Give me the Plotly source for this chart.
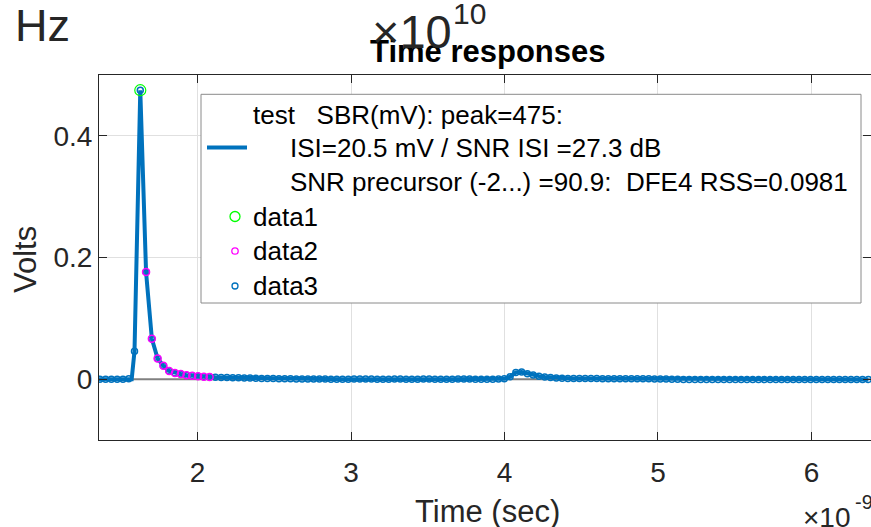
import numpy as np
import plotly.graph_objects as go

# ---------------- data ----------------
ui = 0.037647          # sample period (ns)
t_first = 1.3258       # time of first sample (ns)

# sampled pulse response (Volts), one value per UI
samples = [
    0.0, 0.0, 0.0, 0.0, 0.0, 0.0, 0.0005,            # pre-cursor region
    0.046, 0.475,                                    # rise, main cursor
    0.176, 0.0665, 0.034, 0.022, 0.0135, 0.0102,      # post-cursors 1..6
    0.0085, 0.0065, 0.0055, 0.0047, 0.004, 0.0036,    # post-cursors 7..12
    0.0031, 0.0028, 0.0026, 0.0024, 0.0022, 0.002, 0.0018, 0.0016, 0.0013,
    0.0011, 0.0009, 0.0008, 0.0006, 0.0005, 0.0004, 0.0003, 0.0003, 0.0002,
    0.0002, 0.0001, 0.0, 0.0, -0.0001, 0.0, 0.0001, 0.0002, 0.0002, 0.0001,
    0.0, 0.0, 0.0, 0.0001, 0.0001, 0.0, 0.0, 0.0, 0.0001, 0.0001,
    0.0, 0.0, 0.0, 0.0, 0.0001, 0.0001, 0.0001, 0.0, 0.0, 0.0,
    0.0, 0.0002,
    0.0005, 0.004, 0.011, 0.0118, 0.009, 0.0068, 0.005, 0.0035, 0.0027,
    0.002, 0.0016, 0.0013, 0.0011, 0.001, 0.001, 0.0009, 0.0009, 0.0008,
    0.0008, 0.0008, 0.0007, 0.0007, 0.0007, 0.0006, 0.0006, 0.0005, 0.0004,
    0.0003, 0.0002, 0.0,
    -0.0003, -0.0004, -0.0005, -0.0005, -0.0006, -0.0006, -0.0005, -0.0005,
    -0.0006, -0.0006, -0.0005, -0.0005, -0.0005, -0.0006, -0.0006, -0.0005,
    -0.0005, -0.0004, -0.0005, -0.0005, -0.0006, -0.0006, -0.0005, -0.0005,
    -0.0004, -0.0004, -0.0005, -0.0005, -0.0005, -0.0004, -0.0004, -0.0004,
    -0.0004, -0.0004,
]
sample_t = [t_first + i * ui for i in range(len(samples))]

peak_index = 8                 # main cursor (data1)
post_first, post_last = 9, 20  # post-cursors (data2)

# extra knot on the continuous waveform (start of the rising edge)
edge_t = [1.571]
edge_v = [0.0]

# baseline drawn under the waveform
base_t = [1.571, 6.45]
base_v = [0.0, 0.0]

x_ticks = [2, 3, 4, 5, 6]
y_ticks = [0, 0.2, 0.4]
y_tick_text = ["0", "0.2", "0.4"]
x_range = [1.358, 6.388]
y_range = [-0.1, 0.5]

legend_lines = [
    "test&nbsp;&nbsp;&nbsp;SBR(mV): peak=475:",
    "ISI=20.5 mV / SNR ISI =27.3 dB",
    "SNR precursor (-2...) =90.9:&nbsp;&nbsp;DFE4 RSS=0.0981",
]
legend_data = ["data1", "data2", "data3"]

# ---------------- figure ----------------
W, H = 871, 527
L, R, T, B = 99, 0, 75, 87
PW, PH = W - L - R, H - T - B


def px(x):
    return (x - L) / PW


def py(y):
    return (H - B - y) / PH


BLUE = "#0072BD"
TXT = "#262626"
FONT = "Liberation Sans, Arial, sans-serif"

# continuous waveform = samples plus edge knot, sorted by time
line_pts = sorted(list(zip(sample_t, samples)) + list(zip(edge_t, edge_v)))
line_t = [p[0] for p in line_pts]
line_v = [p[1] for p in line_pts]

fig = go.Figure()
fig.add_trace(go.Scatter(x=base_t, y=base_v, mode="lines",
                         line=dict(color="#808080", width=2), showlegend=False,
                         hoverinfo="skip"))
fig.add_trace(go.Scatter(x=line_t, y=line_v, mode="lines", name="test",
                         line=dict(color=BLUE, width=4)))
fig.add_trace(go.Scatter(x=sample_t, y=samples, mode="markers", name="data3",
                         marker=dict(symbol="circle-open", size=6, color=BLUE,
                                     line=dict(width=1.5, color=BLUE))))
fig.add_trace(go.Scatter(x=sample_t[post_first:post_last + 1],
                         y=samples[post_first:post_last + 1], mode="markers",
                         name="data2",
                         marker=dict(symbol="circle-open", size=7, color="#FF00FF",
                                     line=dict(width=1.5, color="#FF00FF"))))
fig.add_trace(go.Scatter(x=[sample_t[peak_index]], y=[samples[peak_index]],
                         mode="markers", name="data1",
                         marker=dict(symbol="circle-open", size=11, color="#00FF00",
                                     line=dict(width=1.2, color="#00FF00"))))

axis_common = dict(
    showline=True, linecolor=TXT, linewidth=1, mirror="ticks",
    ticks="inside", ticklen=8, tickwidth=1, tickcolor=TXT,
    showgrid=True, gridcolor="#e0e0e0", gridwidth=1, zeroline=False,
    tickfont=dict(family=FONT, size=28, color=TXT),
)
fig.update_xaxes(range=x_range, tickvals=x_ticks, ticktext=[str(v) for v in x_ticks],
                 ticklabelstandoff=7, **axis_common)
fig.update_yaxes(range=y_range, tickvals=y_ticks, ticktext=y_tick_text,
                 **axis_common)

shapes = []
# legend box
shapes.append(dict(type="rect", xref="paper", yref="paper",
                   x0=px(201), x1=px(861), y0=py(303), y1=py(94.3),
                   line=dict(color="#8a8a8a", width=1), fillcolor="white",
                   layer="above"))
# legend line sample
shapes.append(dict(type="line", xref="paper", yref="paper",
                   x0=px(207), x1=px(247), y0=py(147.5), y1=py(147.5),
                   line=dict(color=BLUE, width=4), layer="above"))
# legend marker samples
for cx, cy, r, col in [(235, 216.5, 5, "#00FF00"), (235, 251, 3.2, "#FF00FF"),
                       (235, 286, 3, BLUE)]:
    shapes.append(dict(type="circle", xref="paper", yref="paper",
                       x0=px(cx - r), x1=px(cx + r), y0=py(cy + r), y1=py(cy - r),
                       line=dict(color=col, width=1.3), layer="above"))

ann = []


def add_text(text, x, y, size, xanchor="left", color=TXT, bold=False, angle=0):
    if bold:
        text = "<b>" + text + "</b>"
    ann.append(dict(text=text, xref="paper", yref="paper", x=px(x), y=py(y),
                    xanchor=xanchor, yanchor="middle", showarrow=False,
                    textangle=angle,
                    font=dict(family=FONT, size=size, color=color)))


# legend texts
add_text(legend_lines[0], 250.5, 115, 26, color="black")
add_text(legend_lines[1], 288, 148, 26, color="black")
add_text(legend_lines[2], 287.5, 182, 26, color="black")
add_text(legend_data[0], 250.5, 216.7, 26, color="black")
add_text(legend_data[1], 250.5, 251, 26, color="black")
add_text(legend_data[2], 250.5, 285.5, 26, color="black")

# titles & labels
add_text("Time responses", 487, 52, 31, xanchor="center", color="black", bold=True)
add_text("Volts", 25, 260, 31, xanchor="center", angle=-90)
add_text("Time (sec)", 487, 511, 31, xanchor="center")
add_text("Hz", 13, 25.5, 45)
add_text("\u00d710", 370, 31, 47)
add_text("10", 451, 13, 30)
add_text("\u00d710", 801, 517, 28)
add_text("-9", 853, 502, 20)

fig.update_layout(
    width=W, height=H,
    margin=dict(l=L, r=R, t=T, b=B, pad=0),
    plot_bgcolor="white", paper_bgcolor="white",
    showlegend=False,
    shapes=shapes, annotations=ann,
    font=dict(family=FONT, color=TXT),
)

fig.write_html("out.html")
